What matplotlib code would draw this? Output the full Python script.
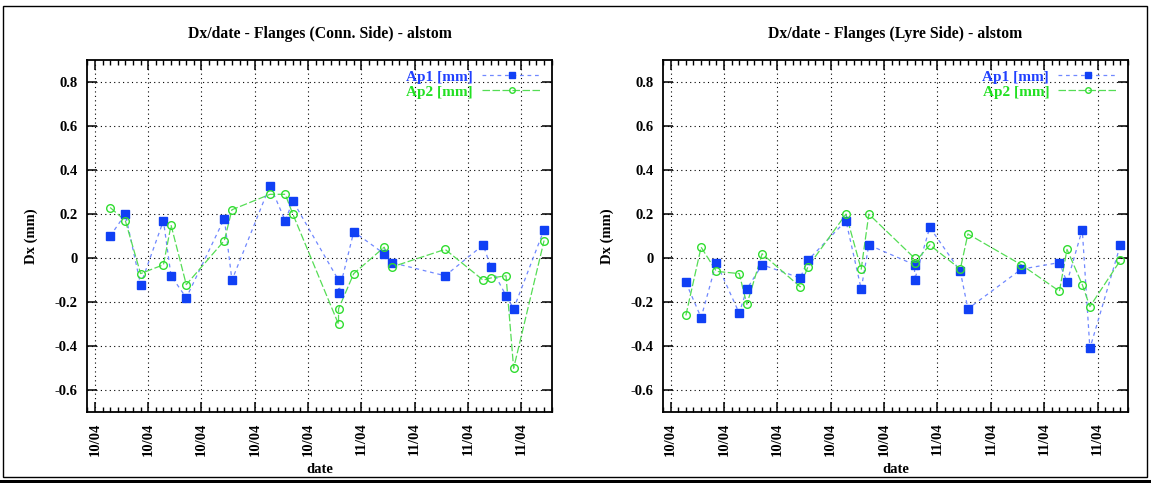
import matplotlib
matplotlib.use("Agg")
import matplotlib.pyplot as plt
import matplotlib.dates as mdates
from matplotlib.lines import Line2D
from matplotlib.patches import Rectangle
import pandas as pd

# Measurement dates (same campaign for both flange sides)
dates = ["2004-10-04", "2004-10-06", "2004-10-08", "2004-10-11", "2004-10-12",
         "2004-10-14", "2004-10-19", "2004-10-20", "2004-10-25", "2004-10-27",
         "2004-10-28", "2004-11-03", "2004-11-03", "2004-11-05", "2004-11-09",
         "2004-11-10", "2004-11-17", "2004-11-22", "2004-11-23", "2004-11-25",
         "2004-11-26", "2004-11-30"]

# Dx on the connection side (mm)
conn_ap1 = [0.10, 0.20, -0.12, 0.17, -0.08, -0.18, 0.18, -0.10, 0.33, 0.17, 0.26,
            -0.10, -0.16, 0.12, 0.02, -0.02, -0.08, 0.06, -0.04, -0.17, -0.23, 0.13]
conn_ap2 = [0.23, 0.17, -0.07, -0.03, 0.15, -0.12, 0.08, 0.22, 0.29, 0.29, 0.20,
            -0.30, -0.23, -0.07, 0.05, -0.04, 0.04, -0.10, -0.09, -0.08, -0.50, 0.08]

# Dx on the lyre side (mm)
lyre_ap1 = [-0.11, -0.27, -0.02, -0.25, -0.14, -0.03, -0.09, -0.01, 0.17, -0.14, 0.06,
            -0.03, -0.10, 0.14, -0.06, -0.23, -0.05, -0.02, -0.11, 0.13, -0.41, 0.06]
lyre_ap2 = [-0.26, 0.05, -0.06, -0.07, -0.21, 0.02, -0.13, -0.04, 0.20, -0.05, 0.20,
            0.00, -0.02, 0.06, -0.05, 0.11, -0.03, -0.15, 0.04, -0.12, -0.22, -0.01]

titles = ["Dx/date - Flanges (Conn. Side) - alstom",
          "Dx/date - Flanges (Lyre Side) - alstom"]
series_labels = ["Ap1 [mm]", "Ap2 [mm]"]
x_range = ["2004-10-01", "2004-12-01"]
y_range = [-0.7, 0.9]
y_ticks = [-0.6, -0.4, -0.2, 0, 0.2, 0.4, 0.6, 0.8]

FONT = ["Liberation Serif", "DejaVu Serif"]
plt.rcParams["font.family"] = FONT
plt.rcParams["font.weight"] = "bold"

BLUE_MK, BLUE_LN, BLUE_TX = "#1040f5", "#7088ff", "#2040ff"
GREEN_MK, GREEN_LN, GREEN_TX = "#30dd30", "#55dd55", "#22e022"

W, H = 1151, 483
fig = plt.figure(figsize=(W / 100, H / 100), dpi=100)

x = pd.to_datetime(dates)


def px_axes(left, top, right, bottom):
    return [left / W, 1 - bottom / H, (right - left) / W, (bottom - top) / H]


panels = [
    (px_axes(87.3, 60, 551.7, 412.3), conn_ap1, conn_ap2, titles[0]),
    (px_axes(663, 60, 1128, 412.3), lyre_ap1, lyre_ap2, titles[1]),
]

for pos, ap1, ap2, title in panels:
    ax = fig.add_axes(pos)
    ax.plot(x, ap1, linestyle=(0, (3, 3)), color=BLUE_LN, lw=0.9, zorder=3)
    ax.plot(x, ap1, linestyle="none", marker="s", ms=5.2, color=BLUE_MK, zorder=4)
    ax.plot(x, ap2, linestyle=(0, (6, 2)), color=GREEN_LN, lw=0.9, zorder=3)
    ax.plot(x, ap2, linestyle="none", marker="o", ms=5.5, mfc="none",
            mec=GREEN_MK, mew=1.0, zorder=4)

    ax.set_xlim(pd.to_datetime(x_range[0]), pd.to_datetime(x_range[1]))
    ax.set_ylim(*y_range)
    ax.set_yticks(y_ticks)
    ax.yaxis.set_major_formatter(plt.FuncFormatter(lambda v, p: f"{v:g}"))

    ax.xaxis.set_major_locator(mdates.WeekdayLocator(byweekday=mdates.SA))
    ax.xaxis.set_minor_locator(mdates.DayLocator())
    ax.xaxis.set_major_formatter(mdates.DateFormatter("%m/%y"))

    ax.tick_params(axis="both", which="major", direction="in", length=7,
                   width=1.1, top=True, right=True, labelsize=10.5, pad=7)
    ax.tick_params(axis="x", which="minor", direction="in", length=3.5,
                   width=1.0, top=True, bottom=True)
    ax.tick_params(axis="x", which="major", pad=7.5)
    for lab in ax.get_xticklabels():
        lab.set_rotation(90)
        lab.set_fontweight("bold")
    for lab in ax.get_yticklabels():
        lab.set_fontweight("bold")

    ax.grid(True, which="major", color="black", linestyle=(0, (1, 3)), lw=0.8)
    for sp in ax.spines.values():
        sp.set_linewidth(1.3)

    ax.set_title(title, fontsize=11.3, fontweight="bold", pad=16)
    ax.set_xlabel("date", fontsize=10.5, fontweight="bold", labelpad=5)
    ax.set_ylabel("Dx (mm)", fontsize=10.5, fontweight="bold", labelpad=12)

    handles = [
        Line2D([], [], linestyle=(0, (3, 3)), color=BLUE_LN, lw=0.9, marker="s",
               ms=5, mfc=BLUE_MK, mec=BLUE_MK),
        Line2D([], [], linestyle=(0, (6, 2)), color=GREEN_LN, lw=0.9, marker="o",
               ms=4, mfc="none", mec=GREEN_MK),
    ]
    ax.legend(handles, series_labels, loc="upper right",
              bbox_to_anchor=(1 - 10 / 464, 1 - 10 / 352), frameon=False,
              markerfirst=False, numpoints=1, handlelength=3.9,
              handletextpad=0.6, labelspacing=0.08, borderpad=0,
              borderaxespad=0, labelcolor=[BLUE_TX, GREEN_TX],
              prop={"size": 11, "weight": "bold", "family": FONT})

# Outer frame with the double rule underneath
fig.add_artist(Rectangle((3 / W, 1 - 477 / H), 1144 / W, 471 / H,
                         transform=fig.transFigure, fill=False,
                         edgecolor="black", lw=1.0))
fig.add_artist(Line2D([0, 1], [1 - 481 / H, 1 - 481 / H],
                      transform=fig.transFigure, color="black", lw=2.2))

fig.savefig("out.png", dpi=100)
